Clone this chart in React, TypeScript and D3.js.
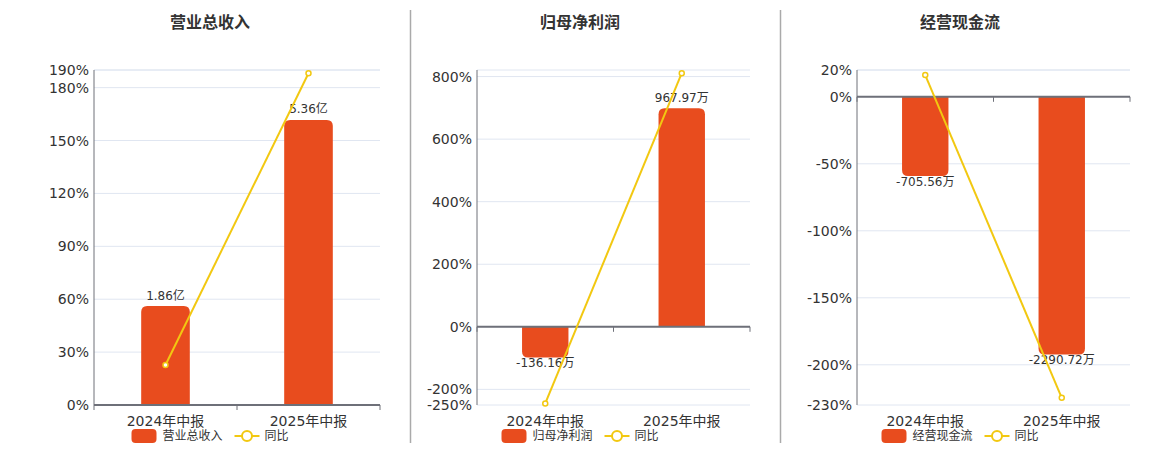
import React from "react";
import * as d3 from "d3";

const categories = ["2024年中报", "2025年中报"];
const titles = ["营业总收入", "归母净利润", "经营现金流"];
const yoyName = "同比";

// 营业总收入 (亿)
const revenueValues = [1.86, 5.36];
const revenueLabels = ["1.86亿", "5.36亿"];
const revenueYoy = [22.7, 188.17];
const revenueTicks = [0, 30, 60, 90, 120, 150, 180, 190];
const revenuePctDomain = [0, 190];
const revenueBarDomain = [0, 6.3];

// 归母净利润 (万)
const profitValues = [-136.16, 967.97];
const profitLabels = ["-136.16万", "967.97万"];
const profitYoy = [-245, 810.9];
const profitTicks = [-250, -200, 0, 200, 400, 600, 800];
const profitPctDomain = [-250, 821];
const profitBarDomain = [-347, 1138];

// 经营现金流 (万)
const cashValues = [-705.56, -2290.72];
const cashLabels = ["-705.56万", "-2290.72万"];
const cashYoy = [16.2, -224.67];
const cashTicks = [-230, -200, -150, -100, -50, 0, 20];
const cashPctDomain = [-230, 20];
const cashBarDomain = [-2740, 237];

const BAR_COLOR = "#e84c1e";
const LINE_COLOR = "#f2c811";
const FONT = "'DejaVu Sans', 'Noto Sans CJK SC', sans-serif";

const layout = [
  { left: 94, right: 380, center: 210 },
  { left: 477, right: 750, center: 580 },
  { left: 857, right: 1130, center: 960 },
];
const TOP = 70;
const BOTTOM = 405;

interface PanelProps {
  title: string;
  values: number[];
  labels: string[];
  yoy: number[];
  ticks: number[];
  pctDomain: number[];
  barDomain: number[];
  left: number;
  right: number;
  center: number;
}

function barPath(x: number, w: number, y0: number, y1: number, r: number) {
  const h = Math.abs(y1 - y0);
  const rr = Math.min(r, h, w / 2);
  if (y1 < y0) {
    return `M${x},${y0}V${y1 + rr}Q${x},${y1} ${x + rr},${y1}H${x + w - rr}Q${x + w},${y1} ${x + w},${y1 + rr}V${y0}Z`;
  }
  return `M${x},${y0}V${y1 - rr}Q${x},${y1} ${x + rr},${y1}H${x + w - rr}Q${x + w},${y1} ${x + w},${y1 - rr}V${y0}Z`;
}

const Panel: React.FC<PanelProps> = ({
  title,
  values,
  labels,
  yoy,
  ticks,
  pctDomain,
  barDomain,
  left,
  right,
  center,
}) => {
  const x = d3.scaleBand<string>().domain(categories).range([left, right]).padding(0);
  const yPct = d3.scaleLinear().domain(pctDomain).range([BOTTOM, TOP]);
  const yBar = d3.scaleLinear().domain(barDomain).range([BOTTOM, TOP]);
  const bw = x.bandwidth() * 0.34;
  const zeroY = yPct(0);

  const line = d3
    .line<number>()
    .x((_, i) => (x(categories[i]) ?? 0) + x.bandwidth() / 2)
    .y((d) => yPct(d));

  const legendText = title.length * 12;
  const legendW = 25 + 6 + legendText + 12 + 25 + 5 + 24;
  const lx = center - legendW / 2;
  const ly = 436;

  return (
    <g>
      <text
        x={center}
        y={22}
        textAnchor="middle"
        dominantBaseline="central"
        fontSize={16}
        fontWeight="bold"
        fill="#333"
      >
        {title}
      </text>

      {/* grid */}
      {[...ticks, pctDomain[1]].map((t, i) => (
        <line
          key={"g" + i}
          x1={left}
          x2={right}
          y1={yPct(t)}
          y2={yPct(t)}
          stroke="#e0e6f1"
          strokeWidth={1}
        />
      ))}
      {ticks.map((t) => (
        <text
          key={"t" + t}
          x={left - 5}
          y={yPct(t)}
          textAnchor="end"
          dominantBaseline="central"
          fontSize={14}
          fill="#333"
        >
          {t}%
        </text>
      ))}

      {/* bars */}
      {values.map((v, i) => {
        const bx = (x(categories[i]) ?? 0) + (x.bandwidth() - bw) / 2;
        return (
          <path
            key={"b" + i}
            d={barPath(bx, bw, yBar(0), yBar(v), 6)}
            fill={BAR_COLOR}
          />
        );
      })}

      {/* axes */}
      <line x1={left} x2={left} y1={TOP} y2={BOTTOM} stroke="#6e7079" strokeWidth={1} />
      <line x1={left} x2={right} y1={zeroY} y2={zeroY} stroke="#6e7079" strokeWidth={2} />
      {[...categories.map((c) => x(c) ?? 0), right].map((tx, i) => (
        <line key={"k" + i} x1={tx} x2={tx} y1={zeroY} y2={zeroY + 5} stroke="#6e7079" strokeWidth={1} />
      ))}
      {categories.map((c) => (
        <text
          key={c}
          x={(x(c) ?? 0) + x.bandwidth() / 2}
          y={421}
          textAnchor="middle"
          dominantBaseline="central"
          fontSize={14}
          fill="#333"
        >
          {c}
        </text>
      ))}

      {/* bar labels */}
      {values.map((v, i) => {
        const cx = (x(categories[i]) ?? 0) + x.bandwidth() / 2;
        const ly2 = v >= 0 ? yBar(v) - 10.5 : yBar(v) + 5.5;
        return (
          <text
            key={"l" + i}
            x={cx}
            y={ly2}
            textAnchor="middle"
            dominantBaseline="central"
            fontSize={12}
            fill="#333"
          >
            {labels[i]}
          </text>
        );
      })}

      {/* yoy line */}
      <path d={line(yoy) ?? ""} fill="none" stroke={LINE_COLOR} strokeWidth={2} />
      {yoy.map((d, i) => (
        <circle
          key={"p" + i}
          cx={(x(categories[i]) ?? 0) + x.bandwidth() / 2}
          cy={yPct(d)}
          r={2.5}
          fill="#fff"
          stroke={LINE_COLOR}
          strokeWidth={1.5}
        />
      ))}

      {/* legend */}
      <rect x={lx} y={ly - 7} width={25} height={14} rx={4} fill={BAR_COLOR} />
      <text x={lx + 31} y={ly} dominantBaseline="central" fontSize={12} fill="#333">
        {title}
      </text>
      <line
        x1={lx + 31 + legendText + 12}
        x2={lx + 31 + legendText + 37}
        y1={ly}
        y2={ly}
        stroke={LINE_COLOR}
        strokeWidth={2}
      />
      <circle cx={lx + 31 + legendText + 24.5} cy={ly} r={5} fill="#fff" stroke={LINE_COLOR} strokeWidth={2} />
      <text x={lx + 31 + legendText + 42} y={ly} dominantBaseline="central" fontSize={12} fill="#333">
        {yoyName}
      </text>
    </g>
  );
};

export default function App() {
  const panels = [
    {
      values: revenueValues,
      labels: revenueLabels,
      yoy: revenueYoy,
      ticks: revenueTicks,
      pctDomain: revenuePctDomain,
      barDomain: revenueBarDomain,
    },
    {
      values: profitValues,
      labels: profitLabels,
      yoy: profitYoy,
      ticks: profitTicks,
      pctDomain: profitPctDomain,
      barDomain: profitBarDomain,
    },
    {
      values: cashValues,
      labels: cashLabels,
      yoy: cashYoy,
      ticks: cashTicks,
      pctDomain: cashPctDomain,
      barDomain: cashBarDomain,
    },
  ];

  return (
    <div style={{ position: "absolute", left: 0, top: 0 }}>
      <svg width={1160} height={450} style={{ display: "block", fontFamily: FONT }}>
        <rect width={1160} height={450} fill="#fff" />
        {[410.5, 780.5].map((dx) => (
          <line key={dx} x1={dx} x2={dx} y1={10} y2={443} stroke="#aaa" strokeWidth={1.5} />
        ))}
        {panels.map((p, i) => (
          <Panel key={i} title={titles[i]} {...p} {...layout[i]} />
        ))}
      </svg>
    </div>
  );
}
